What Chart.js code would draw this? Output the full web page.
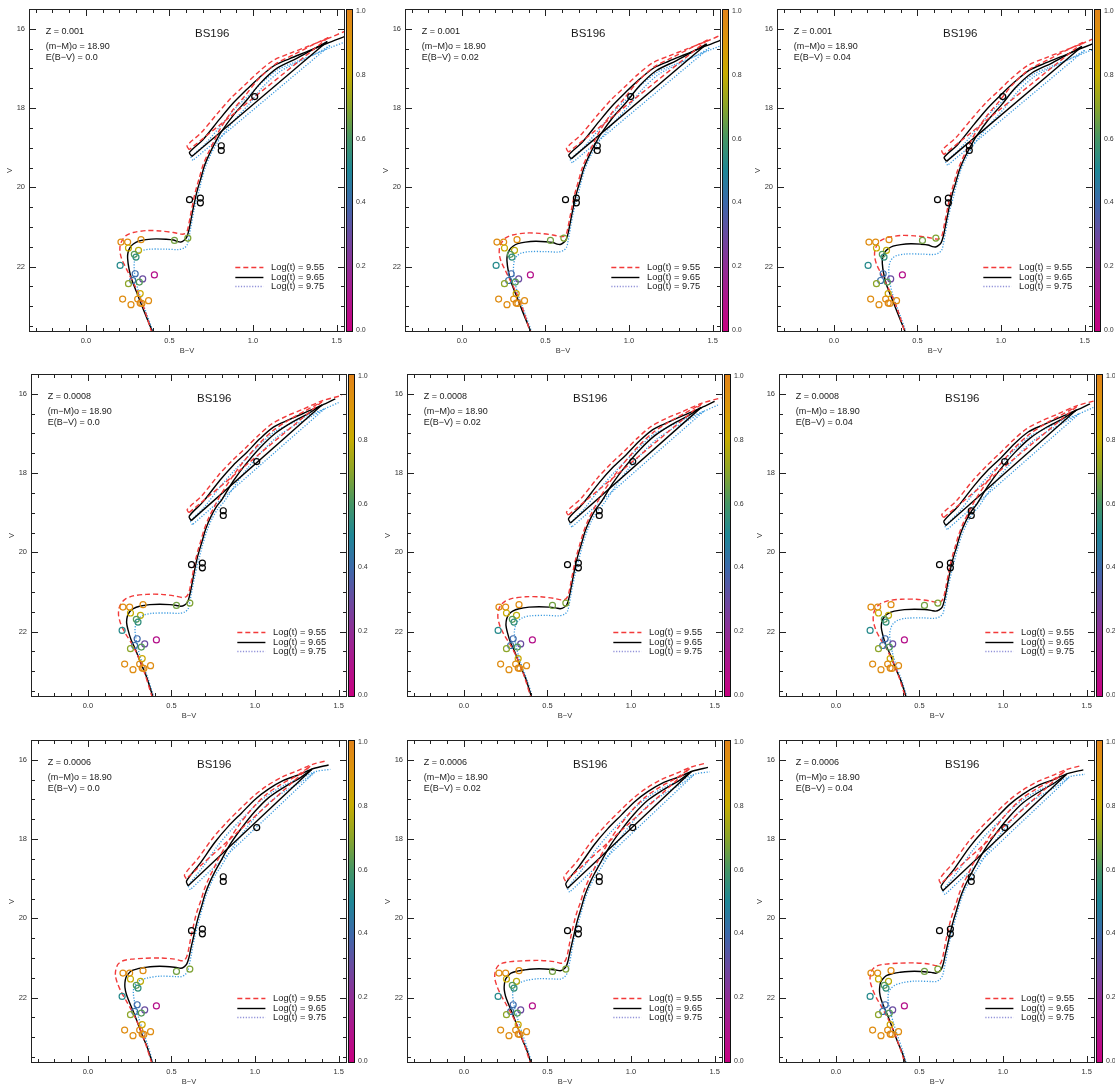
<!DOCTYPE html>
<html>
<head>
<meta charset="utf-8">
<script src="https://cdn.jsdelivr.net/npm/chart.js@4.4.0/dist/chart.umd.min.js"></script>
<style>
  body { margin: 0; background: #fff; width: 1115px; height: 1084px; overflow: hidden; position: relative; }
  canvas.panel { position: absolute; }
</style>
</head>
<body>
<script>
// grid: rows are metallicity, columns are reddening
const zLabels = ['0.001', '0.0008', '0.0006'];
const ebvValues = [0.0, 0.02, 0.04];
const ebvLabels = ['0.0', '0.02', '0.04'];
const distModulus = '18.90';
const clusterName = 'BS196';
const ageLabels = ['9.55', '9.65', '9.75'];
const RV = 3.1;

const xTicks = [0.0, 0.5, 1.0, 1.5];
const xMinorTicks = [-0.3, -0.2, -0.1, 0.0, 0.1, 0.2, 0.3, 0.4, 0.5, 0.6, 0.7, 0.8, 0.9, 1.0, 1.1, 1.2, 1.3, 1.4, 1.5];
const yTicks = [16, 18, 20, 22];
const yMinorTicks = [15.5, 16, 16.5, 17, 17.5, 18, 18.5, 19, 19.5, 20, 20.5, 21, 21.5, 22, 22.5, 23, 23.5];
const cbarTicks = [0.0, 0.2, 0.4, 0.6, 0.8, 1.0];

// observed stars: B-V, V and membership probability (null = plotted black)
const starBV = [1.01, 0.81, 0.81, 0.62, 0.685, 0.685, 0.53, 0.61, 0.21, 0.25, 0.33, 0.255, 0.315, 0.29, 0.30, 0.205, 0.295, 0.34, 0.28, 0.41, 0.255, 0.32, 0.325, 0.22, 0.31, 0.375, 0.27, 0.325, 0.335];
const starV = [17.71, 18.95, 19.07, 20.31, 20.27, 20.39, 21.34, 21.28, 21.38, 21.38, 21.32, 21.53, 21.59, 21.69, 21.76, 21.97, 22.18, 22.31, 22.35, 22.21, 22.43, 22.39, 22.68, 22.82, 22.82, 22.86, 22.96, 22.92, 22.93];
const starProb = [null, null, null, null, null, null, 0.66, 0.68, 0.95, 0.95, 0.95, 0.8, 0.78, 0.62, 0.55, 0.52, 0.4, 0.3, 0.42, 0.08, 0.7, 0.62, 0.82, 0.95, 0.95, 0.95, 0.95, 0.98, 0.95];

// isochrones [B-V, V] for (m-M)o = 18.90, E(B-V) = 0
const iso_z0010_955 = [[0.394,23.66],[0.344,23.00],[0.304,22.58],[0.264,22.24],[0.236,22.00],[0.214,21.80],[0.204,21.62],[0.206,21.45],[0.220,21.32],[0.240,21.22],[0.284,21.14],[0.364,21.09],[0.444,21.10],[0.524,21.14],[0.570,21.18],[0.592,21.17],[0.606,21.10],[0.616,20.92],[0.626,20.70],[0.638,20.45],[0.650,20.20],[0.662,20.00],[0.676,19.80],[0.700,19.45],[0.730,19.15],[0.765,18.85],[0.800,18.55],[0.870,18.10],[0.950,17.70],[1.030,17.28],[1.130,16.90],[1.250,16.64],[1.350,16.42],[1.450,16.22],[0.618,19.05],[0.606,18.95],[0.690,18.62],[0.790,18.12],[0.870,17.74],[0.950,17.42],[1.030,17.10],[1.120,16.80],[1.220,16.62],[1.330,16.44],[1.450,16.24],[1.550,16.06]];
const iso_z0010_965 = [[0.400,23.66],[0.344,23.08],[0.304,22.65],[0.274,22.32],[0.258,22.05],[0.250,21.80],[0.252,21.65],[0.264,21.52],[0.284,21.43],[0.314,21.36],[0.360,21.32],[0.420,21.30],[0.480,21.31],[0.524,21.33],[0.550,21.37],[0.568,21.38],[0.586,21.34],[0.602,21.27],[0.614,21.12],[0.624,20.92],[0.634,20.70],[0.646,20.45],[0.658,20.22],[0.670,20.02],[0.686,19.80],[0.710,19.45],[0.740,19.15],[0.775,18.86],[0.812,18.59],[0.884,18.17],[0.964,17.79],[1.044,17.37],[1.144,16.99],[1.264,16.74],[1.360,16.52],[1.444,16.32],[0.634,19.22],[0.620,19.12],[0.700,18.80],[0.800,18.28],[0.880,17.88],[0.960,17.54],[1.040,17.22],[1.130,16.92],[1.220,16.75],[1.320,16.58],[1.440,16.37],[1.550,16.19]];
const iso_z0010_975 = [[0.404,23.66],[0.354,23.08],[0.314,22.61],[0.296,22.30],[0.289,22.05],[0.290,21.88],[0.298,21.74],[0.312,21.66],[0.334,21.60],[0.384,21.56],[0.484,21.56],[0.554,21.57],[0.588,21.53],[0.606,21.45],[0.616,21.28],[0.626,21.05],[0.636,20.82],[0.646,20.60],[0.660,20.35],[0.674,20.14],[0.690,19.86],[0.716,19.48],[0.746,19.18],[0.782,18.90],[0.822,18.65],[0.900,18.25],[0.980,17.88],[1.060,17.46],[1.160,17.08],[1.280,16.82],[1.380,16.62],[1.460,16.42],[0.640,19.32],[0.630,19.24],[0.715,18.90],[0.815,18.40],[0.900,17.98],[0.980,17.66],[1.060,17.33],[1.150,17.03],[1.240,16.86],[1.340,16.69],[1.460,16.48],[1.550,16.33]];

const iso_z0008_955 = [[0.385,23.66],[0.340,23.05],[0.300,22.62],[0.262,22.30],[0.225,22.05],[0.198,21.82],[0.184,21.60],[0.186,21.42],[0.200,21.28],[0.224,21.18],[0.270,21.10],[0.350,21.06],[0.440,21.06],[0.520,21.10],[0.566,21.14],[0.588,21.12],[0.602,21.04],[0.612,20.88],[0.622,20.66],[0.634,20.40],[0.646,20.16],[0.658,19.96],[0.672,19.76],[0.696,19.42],[0.724,19.12],[0.758,18.84],[0.790,18.58],[0.860,18.12],[0.930,17.72],[1.020,17.28],[1.110,16.92],[1.210,16.64],[1.300,16.43],[1.400,16.20],[0.605,19.00],[0.594,18.92],[0.680,18.58],[0.780,18.06],[0.860,17.70],[0.940,17.38],[1.020,17.05],[1.100,16.76],[1.190,16.56],[1.280,16.40],[1.400,16.18],[1.520,16.04]];
const iso_z0008_965 = [[0.390,23.66],[0.350,23.13],[0.312,22.75],[0.285,22.45],[0.258,22.20],[0.240,21.95],[0.232,21.78],[0.236,21.62],[0.250,21.50],[0.272,21.42],[0.310,21.36],[0.370,21.32],[0.430,21.31],[0.490,21.32],[0.530,21.34],[0.556,21.36],[0.578,21.33],[0.596,21.26],[0.608,21.10],[0.618,20.90],[0.628,20.68],[0.640,20.42],[0.652,20.18],[0.666,19.96],[0.682,19.74],[0.706,19.40],[0.736,19.10],[0.770,18.84],[0.800,18.68],[0.870,18.20],[0.940,17.80],[1.030,17.36],[1.120,17.00],[1.220,16.72],[1.310,16.52],[1.400,16.28],[0.618,19.20],[0.606,19.09],[0.690,18.72],[0.790,18.18],[0.870,17.80],[0.950,17.48],[1.030,17.13],[1.110,16.84],[1.200,16.66],[1.290,16.49],[1.400,16.29],[1.480,16.13]];
const iso_z0008_975 = [[0.395,23.66],[0.355,23.12],[0.318,22.70],[0.298,22.40],[0.286,22.12],[0.282,21.95],[0.288,21.80],[0.302,21.68],[0.330,21.59],[0.380,21.54],[0.480,21.53],[0.548,21.54],[0.582,21.50],[0.600,21.42],[0.610,21.25],[0.620,21.02],[0.630,20.80],[0.642,20.56],[0.656,20.30],[0.670,20.08],[0.686,19.82],[0.712,19.46],[0.742,19.16],[0.778,18.90],[0.815,18.72],[0.885,18.28],[0.955,17.88],[1.045,17.44],[1.135,17.08],[1.235,16.80],[1.325,16.60],[1.415,16.38],[0.626,19.30],[0.615,19.22],[0.700,18.84],[0.800,18.30],[0.880,17.92],[0.960,17.58],[1.040,17.24],[1.120,16.95],[1.210,16.76],[1.300,16.58],[1.415,16.38],[1.500,16.22]];

const iso_z0006_955 = [[0.382,23.65],[0.340,23.10],[0.300,22.66],[0.265,22.35],[0.232,22.10],[0.200,21.86],[0.178,21.65],[0.165,21.45],[0.168,21.28],[0.182,21.15],[0.210,21.07],[0.260,21.03],[0.330,21.01],[0.430,21.00],[0.520,21.03],[0.556,21.07],[0.576,21.06],[0.590,20.98],[0.600,20.84],[0.610,20.62],[0.620,20.40],[0.632,20.18],[0.644,19.96],[0.658,19.76],[0.676,19.55],[0.698,19.25],[0.726,18.97],[0.756,18.72],[0.778,18.52],[0.840,18.06],[0.905,17.64],[0.985,17.22],[1.065,16.88],[1.155,16.62],[1.250,16.40],[1.330,16.16],[0.588,19.00],[0.578,18.90],[0.660,18.48],[0.750,17.96],[0.830,17.58],[0.910,17.24],[0.990,16.92],[1.070,16.66],[1.160,16.44],[1.250,16.28],[1.340,16.12],[1.430,16.02]];
const iso_z0006_965 = [[0.386,23.65],[0.355,23.25],[0.330,23.00],[0.300,22.66],[0.270,22.33],[0.245,22.08],[0.230,21.91],[0.222,21.75],[0.222,21.62],[0.228,21.49],[0.242,21.40],[0.262,21.32],[0.300,21.27],[0.340,21.24],[0.430,21.21],[0.530,21.24],[0.556,21.26],[0.574,21.23],[0.592,21.15],[0.604,21.00],[0.614,20.80],[0.626,20.58],[0.638,20.36],[0.650,20.14],[0.664,19.92],[0.680,19.70],[0.702,19.38],[0.730,19.08],[0.760,18.82],[0.785,18.63],[0.850,18.14],[0.920,17.72],[1.000,17.30],[1.080,16.96],[1.170,16.70],[1.260,16.48],[1.340,16.24],[0.600,19.18],[0.590,19.06],[0.670,18.62],[0.760,18.08],[0.840,17.68],[0.920,17.34],[1.000,17.00],[1.080,16.74],[1.170,16.52],[1.260,16.38],[1.350,16.22],[1.440,16.13]];
const iso_z0006_975 = [[0.390,23.65],[0.360,23.22],[0.330,22.85],[0.305,22.52],[0.285,22.22],[0.275,22.00],[0.272,21.86],[0.276,21.74],[0.290,21.64],[0.315,21.56],[0.360,21.50],[0.430,21.46],[0.530,21.47],[0.560,21.47],[0.582,21.42],[0.598,21.32],[0.608,21.14],[0.618,20.94],[0.628,20.70],[0.640,20.46],[0.654,20.22],[0.668,20.00],[0.684,19.76],[0.706,19.44],[0.734,19.14],[0.766,18.88],[0.795,18.70],[0.865,18.22],[0.935,17.80],[1.015,17.38],[1.095,17.04],[1.185,16.78],[1.275,16.56],[1.355,16.32],[0.612,19.28],[0.602,19.18],[0.685,18.72],[0.775,18.18],[0.855,17.78],[0.935,17.44],[1.015,17.10],[1.095,16.84],[1.185,16.62],[1.275,16.46],[1.360,16.30],[1.450,16.24]];

const isoByRow = [
  [iso_z0010_955, iso_z0010_965, iso_z0010_975],
  [iso_z0008_955, iso_z0008_965, iso_z0008_975],
  [iso_z0006_955, iso_z0006_965, iso_z0006_975]
];

// line looks for the three ages
const ageStyles = [
  { color: '#f23a3a', legend: '#f23a3a', dash: [5, 3], width: 1.4 },
  { color: '#000000', legend: '#000000', dash: [], width: 1.4 },
  { color: '#3b9be0', legend: '#9090d8', dash: [1.2, 1.6], width: 1.3 }
];

// colour bar for the membership probability
const cmap = [
  [0.0, [200, 0, 128]], [0.1, [175, 20, 140]], [0.2, [145, 45, 150]], [0.3, [105, 75, 160]],
  [0.4, [60, 105, 170]], [0.5, [30, 135, 150]], [0.6, [70, 150, 100]], [0.7, [140, 165, 40]],
  [0.8, [200, 172, 0]], [0.9, [220, 150, 10]], [1.0, [225, 130, 25]]
];
function cmapColor(t) {
  for (let i = 1; i < cmap.length; i++) {
    if (t <= cmap[i][0]) {
      const [t0, c0] = cmap[i - 1], [t1, c1] = cmap[i];
      const f = (t - t0) / (t1 - t0);
      const c = c0.map((v, k) => Math.round(v + (c1[k] - v) * f));
      return `rgb(${c[0]},${c[1]},${c[2]})`;
    }
  }
  const c = cmap[cmap.length - 1][1];
  return `rgb(${c[0]},${c[1]},${c[2]})`;
}

// break an isochrone at the jump from the RGB tip down to the clump,
// so the two branches can be smoothed while the jump stays straight
function splitAtTip(iso) {
  const k = iso.findIndex((p, i) => i > 0 && iso[i - 1][0] - p[0] > 0.5);
  if (k < 0) return [iso];
  return [iso.slice(0, k), iso.slice(k - 1, k + 1), iso.slice(k)];
}

const FONT = '"Liberation Sans", Arial, Helvetica, sans-serif';
const INK = '#1a1a1a';

const panelLeft = [[0, 376, 748], [2, 378, 750], [2, 378, 750]];
const panelTop = [0, 365, 731];
const CW = 368, CH = 360;

const decor = {
  id: 'decor',
  afterDraw(chart, args, opts) {
    const { ctx, chartArea: a, scales: { x, y } } = chart;
    const { row, col } = opts;
    ctx.save();
    ctx.strokeStyle = '#222';
    ctx.lineWidth = 1;
    ctx.setLineDash([]);
    ctx.strokeRect(a.left + 0.5, a.top + 0.5, a.width - 1, a.height - 1);

    ctx.beginPath();
    for (const v of xMinorTicks) {
      const big = xTicks.some(t => Math.abs(t - v) < 1e-6);
      const len = big ? 7 : 4;
      const px = Math.round(x.getPixelForValue(v)) + 0.5;
      ctx.moveTo(px, a.bottom); ctx.lineTo(px, a.bottom - len);
      ctx.moveTo(px, a.top); ctx.lineTo(px, a.top + len);
    }
    for (const v of yMinorTicks) {
      const big = yTicks.includes(v);
      const len = big ? 7 : 4;
      const py = Math.round(y.getPixelForValue(v)) + 0.5;
      ctx.moveTo(a.left, py); ctx.lineTo(a.left + len, py);
      ctx.moveTo(a.right, py); ctx.lineTo(a.right - len, py);
    }
    ctx.stroke();

    // colour bar
    const bx = Math.round(a.right) + 1, bw = 7;
    const g = ctx.createLinearGradient(0, a.bottom, 0, a.top);
    for (const [t, c] of cmap) g.addColorStop(t, `rgb(${c[0]},${c[1]},${c[2]})`);
    ctx.fillStyle = g;
    ctx.fillRect(bx, a.top, bw, a.height);
    ctx.strokeStyle = '#111';
    ctx.strokeRect(bx + 0.5, a.top + 0.5, bw - 1, a.height - 1);
    ctx.fillStyle = '#333';
    ctx.font = `7px ${FONT}`;
    ctx.textAlign = 'left';
    ctx.textBaseline = 'middle';
    for (const t of cbarTicks) {
      const py = a.bottom - 2 - t * (a.height - 4);
      ctx.fillText(t.toFixed(1), bx + bw + 3, py);
    }

    // annotations
    ctx.fillStyle = INK;
    ctx.font = `9px ${FONT}`;
    const tx = x.getPixelForValue(-0.24);
    ctx.fillText('Z = ' + zLabels[row], tx, y.getPixelForValue(16.06));
    ctx.fillText('(m\u2212M)o = ' + distModulus, tx, y.getPixelForValue(16.45));
    ctx.fillText('E(B\u2212V) = ' + ebvLabels[col], tx, y.getPixelForValue(16.72));
    ctx.font = `11.5px ${FONT}`;
    ctx.textAlign = 'center';
    ctx.fillText(clusterName, x.getPixelForValue(0.756), y.getPixelForValue(16.13));

    // legend
    const legV = [22.0, 22.25, 22.48];
    const lx0 = x.getPixelForValue(0.894), lx1 = x.getPixelForValue(1.062), ltx = x.getPixelForValue(1.108);
    ctx.font = `9.3px ${FONT}`;
    ctx.textAlign = 'left';
    ageStyles.forEach((s, i) => {
      const py = Math.round(y.getPixelForValue(legV[i])) + 0.5;
      ctx.strokeStyle = s.legend;
      ctx.lineWidth = s.width;
      ctx.setLineDash(s.dash);
      ctx.beginPath(); ctx.moveTo(lx0, py); ctx.lineTo(lx1, py); ctx.stroke();
      ctx.fillStyle = INK;
      ctx.fillText('Log(t) = ' + ageLabels[i], ltx, py);
    });
    ctx.restore();
  }
};

function makePanel(row, col) {
  const cv = document.createElement('canvas');
  cv.className = 'panel';
  cv.width = CW; cv.height = CH;
  cv.style.left = panelLeft[row][col] + 'px';
  cv.style.top = panelTop[row] + 'px';
  document.body.appendChild(cv);

  const ebv = ebvValues[col];
  const datasets = [];
  datasets.push({
    label: 'stars',
    data: starBV.map((bv, i) => ({ x: bv, y: starV[i] })),
    showLine: false,
    pointRadius: 3,
    pointBorderWidth: 1.2,
    pointBackgroundColor: 'rgba(0,0,0,0)',
    pointBorderColor: starProb.map(p => p === null ? '#000' : cmapColor(p))
  });
  isoByRow[row].forEach((iso, k) => {
    const s = ageStyles[k];
    splitAtTip(iso).forEach((part, j) => {
      datasets.push({
        label: 'Log(t) = ' + ageLabels[k],
        data: part.map(p => ({ x: p[0] + ebv, y: p[1] + RV * ebv })),
        showLine: true,
        pointRadius: 0,
        borderColor: s.color,
        borderWidth: s.width,
        borderDash: s.dash,
        tension: j === 1 ? 0 : 0.3
      });
    });
  });

  new Chart(cv, {
    type: 'scatter',
    data: { datasets },
    options: {
      responsive: false,
      animation: false,
      devicePixelRatio: 1,
      events: [],
      layout: { padding: { left: 0, top: 9, right: CW - 29 - 316, bottom: 0 } },
      plugins: { legend: { display: false }, tooltip: { enabled: false }, decor: { row, col } },
      scales: {
        x: {
          type: 'linear', min: -0.34, max: 1.55,
          afterBuildTicks: s => { s.ticks = xTicks.map(v => ({ value: v })); },
          afterFit: s => { s.height = 28; },
          grid: { display: false, drawTicks: false },
          border: { display: false },
          ticks: { font: { family: FONT, size: 7.5 }, color: '#333', padding: 4, maxRotation: 0, autoSkip: false,
                   callback: v => Number(v).toFixed(1) },
          title: { display: true, text: 'B\u2212V', font: { family: FONT, size: 7.5 }, color: '#333', padding: { top: 0, bottom: 5 } }
        },
        y: {
          type: 'linear', reverse: true, min: 15.5, max: 23.65,
          afterBuildTicks: s => { s.ticks = yTicks.map(v => ({ value: v })); },
          afterFit: s => { s.width = 29; },
          grid: { display: false, drawTicks: false },
          border: { display: false },
          ticks: { font: { family: FONT, size: 7.5 }, color: '#333', padding: 4, autoSkip: false,
                   callback: v => Number(v).toFixed(0) },
          title: { display: true, text: 'V', font: { family: FONT, size: 7.5 }, color: '#333', padding: { top: 5.5, bottom: 0 } }
        }
      }
    },
    plugins: [decor]
  });
}

for (let r = 0; r < 3; r++) {
  for (let c = 0; c < 3; c++) makePanel(r, c);
}
</script>
</body>
</html>
